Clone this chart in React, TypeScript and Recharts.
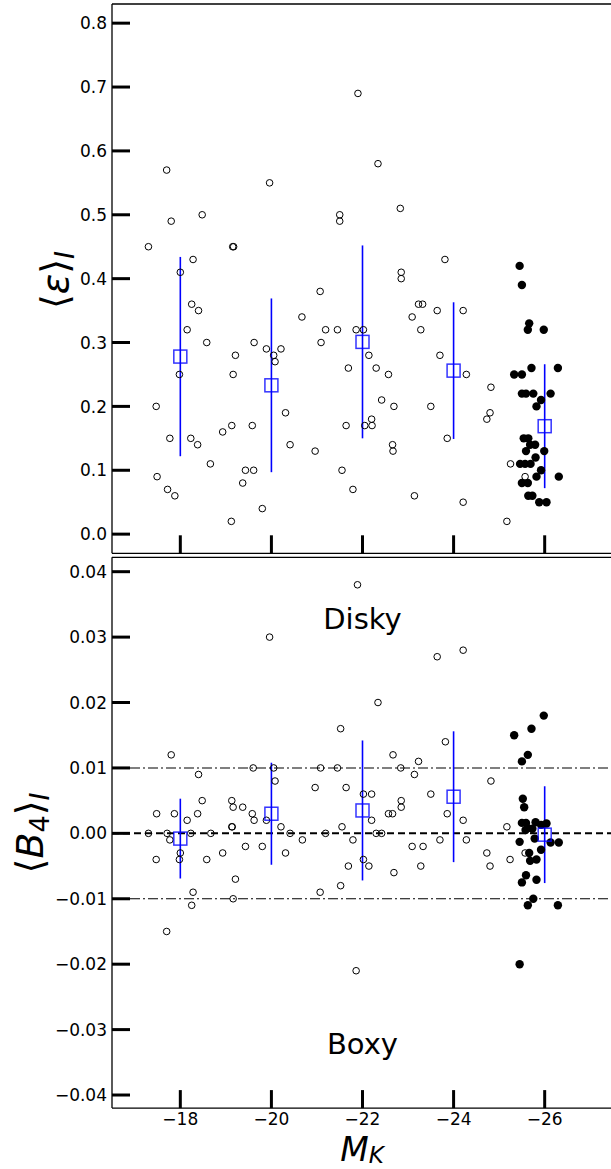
import React from "react";
import { ScatterChart, Scatter, XAxis, YAxis, ErrorBar, ReferenceLine } from "recharts";

const FONT = "DejaVu Sans, sans-serif";

// axis ticks
const xTicks = [-18, -20, -22, -24, -26];
const epsTicks = [0, 0.1, 0.2, 0.3, 0.4, 0.5, 0.6, 0.7, 0.8];
const b4Ticks = [-0.04, -0.03, -0.02, -0.01, 0, 0.01, 0.02, 0.03, 0.04];

// binned means (blue squares + error bars)
const binMK = [-18, -20, -22, -24, -26];
const epsMean = [0.278, 0.233, 0.301, 0.256, 0.169];
const epsErr = [0.156, 0.136, 0.151, 0.107, 0.097];
const b4Mean = [-0.0008, 0.003, 0.0035, 0.0056, -0.0002];
const b4Err = [0.0061, 0.0078, 0.0107, 0.01, 0.0074];

// ellipticity, fainter galaxies (open circles): [M_K, eps]
const epsOpen: [number, number][] = [
  [-17.3, 0.45], [-17.7, 0.57], [-17.8, 0.49], [-18.48, 0.5], [-19.15, 0.45], [-19.17, 0.45],
  [-18.28, 0.43], [-18.0, 0.41], [-19.96, 0.55], [-21.9, 0.69], [-21.5, 0.5], [-21.5, 0.49],
  [-22.34, 0.58], [-22.83, 0.51], [-23.81, 0.43], [-22.85, 0.41], [-22.85, 0.4], [-18.25, 0.36],
  [-18.4, 0.35], [-18.15, 0.32], [-18.58, 0.3], [-17.98, 0.25], [-17.47, 0.2], [-17.77, 0.15],
  [-18.23, 0.15], [-18.38, 0.14], [-18.66, 0.11], [-17.49, 0.09], [-17.72, 0.07], [-17.88, 0.06],
  [-18.93, 0.16], [-19.13, 0.17], [-19.16, 0.25], [-19.21, 0.28], [-19.62, 0.3], [-19.58, 0.17],
  [-19.43, 0.1], [-19.61, 0.1], [-19.37, 0.08], [-19.12, 0.02], [-19.8, 0.04], [-19.89, 0.29],
  [-20.05, 0.28], [-20.08, 0.27], [-20.21, 0.29], [-20.31, 0.19], [-20.41, 0.14], [-20.67, 0.34],
  [-20.96, 0.13], [-21.07, 0.38], [-21.19, 0.32], [-21.09, 0.3], [-21.45, 0.32], [-21.86, 0.32],
  [-21.69, 0.26], [-21.64, 0.17], [-21.55, 0.1], [-21.79, 0.07], [-22.02, 0.32], [-22.14, 0.28],
  [-22.3, 0.26], [-22.57, 0.25], [-22.42, 0.21], [-22.69, 0.2], [-22.2, 0.18], [-22.21, 0.17],
  [-22.05, 0.17], [-22.66, 0.14], [-22.67, 0.13], [-23.14, 0.06], [-23.09, 0.34], [-23.23, 0.36],
  [-23.32, 0.36], [-23.28, 0.32], [-23.64, 0.35], [-24.21, 0.35], [-23.7, 0.28], [-24.28, 0.25],
  [-23.5, 0.2], [-23.86, 0.15], [-24.21, 0.05], [-24.82, 0.23], [-24.8, 0.19], [-24.73, 0.18],
  [-25.17, 0.02], [-25.25, 0.11], [-25.57, 0.09],
];

// ellipticity, brightest galaxies (filled circles)
const epsFilled: [number, number][] = [
  [-25.45, 0.42], [-25.5, 0.39], [-25.66, 0.33], [-25.63, 0.32], [-25.98, 0.32], [-25.71, 0.26],
  [-26.29, 0.26], [-25.33, 0.25], [-25.5, 0.25], [-25.5, 0.22], [-25.59, 0.22], [-25.75, 0.22],
  [-26.13, 0.22], [-25.92, 0.21], [-25.82, 0.2], [-25.54, 0.15], [-25.64, 0.15], [-25.68, 0.14],
  [-25.79, 0.14], [-25.59, 0.13], [-25.99, 0.13], [-25.8, 0.12], [-25.46, 0.11], [-25.57, 0.11],
  [-25.69, 0.11], [-25.92, 0.1], [-25.82, 0.09], [-26.31, 0.09], [-25.5, 0.08], [-25.63, 0.08],
  [-25.64, 0.06], [-25.73, 0.06], [-25.88, 0.05], [-26.04, 0.05],
];

// B4, open circles
const b4Open: [number, number][] = [
  [-19.96, 0.03], [-21.89, 0.038], [-17.8, 0.012], [-18.4, 0.009], [-21.52, 0.016], [-19.6, 0.01],
  [-20.05, 0.01], [-20.08, 0.008], [-21.08, 0.01], [-21.45, 0.01], [-20.96, 0.007], [-21.64, 0.007],
  [-17.48, 0.003], [-17.87, 0.003], [-18.15, 0.002], [-18.38, 0.003], [-18.48, 0.005], [-19.13, 0.005],
  [-19.16, 0.004], [-19.13, 0.001], [-19.14, 0.001], [-19.37, 0.004], [-19.58, 0.003], [-19.62, 0.002],
  [-19.89, 0.002], [-20.21, 0.001], [-21.55, 0.001], [-17.3, 0], [-17.71, 0], [-18.23, 0],
  [-18.67, 0], [-20.41, 0], [-21.19, 0], [-17.77, -0.001], [-20.68, -0.001], [-21.79, -0.001],
  [-19.43, -0.002], [-19.8, -0.002], [-18.0, -0.003], [-18.93, -0.003], [-20.31, -0.003], [-17.47, -0.004],
  [-17.98, -0.004], [-18.58, -0.004], [-19.21, -0.007], [-18.28, -0.009], [-18.25, -0.011], [-19.16, -0.01],
  [-17.7, -0.015], [-21.07, -0.009], [-21.52, -0.008], [-21.69, -0.005], [-21.86, -0.021], [-23.64, 0.027],
  [-24.21, 0.028], [-22.34, 0.02], [-23.82, 0.014], [-22.67, 0.012], [-23.23, 0.011], [-22.84, 0.01],
  [-23.14, 0.009], [-24.82, 0.008], [-22.02, 0.006], [-22.2, 0.006], [-23.5, 0.006], [-22.85, 0.005],
  [-22.85, 0.004], [-22.2, 0.002], [-22.57, 0.003], [-22.66, 0.003], [-23.86, 0.003], [-24.21, 0.002],
  [-25.17, 0.001], [-22.3, 0], [-22.42, 0], [-23.7, -0.001], [-24.28, -0.001], [-23.09, -0.002],
  [-23.33, -0.002], [-24.73, -0.003], [-25.57, -0.003], [-22.02, -0.004], [-22.14, -0.005], [-22.69, -0.006],
  [-23.28, -0.005], [-24.8, -0.005], [-25.24, -0.004],
];

// B4, filled circles
const b4Filled: [number, number][] = [
  [-25.98, 0.018], [-25.71, 0.016], [-25.33, 0.015], [-25.63, 0.012], [-25.5, 0.011], [-25.52, 0.0053],
  [-25.55, 0.004], [-25.5, 0.0016], [-25.59, 0.0016], [-25.8, 0.0017], [-25.92, 0.0013], [-26.04, 0.0015],
  [-25.63, 0.0008], [-25.73, 0.0007], [-25.58, 0.0005], [-25.78, -0.0008], [-26.13, -0.0014], [-26.31, -0.0014],
  [-25.45, -0.0013], [-25.92, -0.0025], [-25.66, -0.003], [-25.68, -0.0042], [-25.82, -0.004], [-25.59, -0.0064],
  [-25.5, -0.0075], [-25.82, -0.0071], [-25.75, -0.01], [-25.63, -0.011], [-26.29, -0.011], [-25.45, -0.02],
];

const toPts = (arr: [number, number][]) => arr.map(([x, y]) => ({ x, y }));
const epsBins = binMK.map((x, i) => ({ x, y: epsMean[i], err: epsErr[i] }));
const b4Bins = binMK.map((x, i) => ({ x, y: b4Mean[i], err: b4Err[i] }));
const tags = [
  { x: -22, y: 0.0328, text: "Disky" },
  { x: -22, y: -0.0321, text: "Boxy" },
];

const fmt = (v: number, d: number) => {
  const s = Math.abs(v).toFixed(d);
  return v < -1e-9 ? "\u2212" + s : s;
};

const X_DOMAIN = [-27.5, -16.5];

const OpenDot = (p: any) => (
  <circle cx={p.cx} cy={p.cy} r={3.3} fill="none" stroke="#000" strokeWidth={1} />
);
const FullDot = (p: any) => <circle cx={p.cx} cy={p.cy} r={4.2} fill="#000" />;
const BlueSquare = (p: any) => (
  <rect x={p.cx - 6.5} y={p.cy - 6.5} width={13} height={13} fill="none" stroke="rgba(0,0,255,0.8)" strokeWidth={1.5} />
);
const TagText = (p: any) => (
  <text x={p.cx} y={p.cy} dy="0.36em" textAnchor="middle" fontSize={29} fontFamily={FONT} fill="#000">
    {p.payload.text}
  </text>
);

const yTick = (d: number) => (p: any) => (
  <g>
    <line x1={p.x} x2={p.x + 18} y1={p.y} y2={p.y} stroke="#000" strokeWidth={3} />
    <text x={p.x - 5} y={p.y} dy="0.36em" textAnchor="end" fontSize={17} fontFamily={FONT} fill="#000">
      {fmt(p.payload.value, d)}
    </text>
  </g>
);

const xTickBare = (p: any) => (
  <line x1={p.x} x2={p.x} y1={p.y} y2={p.y - 18} stroke="#000" strokeWidth={3} />
);

const xTickLabeled = (p: any) => (
  <g>
    <line x1={p.x} x2={p.x} y1={p.y} y2={p.y - 18} stroke="#000" strokeWidth={3} />
    <text x={p.x} y={p.y + 17} textAnchor="middle" fontSize={17} fontFamily={FONT} fill="#000">
      {fmt(p.payload.value, 0)}
    </text>
  </g>
);

const App = () => {
  return (
    <div style={{ position: "absolute", left: 0, top: 0, width: 611, height: 1169, overflow: "hidden", background: "#fff" }}>
      {/* top panel: ellipticity */}
      <div style={{ position: "absolute", left: 0, top: 0 }}>
        <ScatterChart width={640} height={556} margin={{ top: 3, right: 27, bottom: 1.7, left: 111 }}>
          <XAxis
            dataKey="x"
            type="number"
            domain={X_DOMAIN}
            reversed
            allowDataOverflow
            ticks={xTicks}
            interval={0}
            height={1}
            tickSize={0}
            tickMargin={0}
            tickLine={false}
            tick={xTickBare}
            axisLine={{ stroke: "#000", strokeWidth: 1.3 }}
          />
          <XAxis
            xAxisId="top"
            orientation="top"
            type="number"
            domain={X_DOMAIN}
            reversed
            height={1}
            tick={false}
            tickLine={false}
            axisLine={{ stroke: "#000", strokeWidth: 1.3 }}
          />
          <YAxis
            dataKey="y"
            type="number"
            domain={[-0.03, 0.83]}
            allowDataOverflow
            ticks={epsTicks}
            interval={0}
            width={1}
            tickSize={0}
            tickMargin={0}
            tickLine={false}
            tick={yTick(1)}
            axisLine={{ stroke: "#000", strokeWidth: 1.3 }}
            label={{
              content: () => (
                <text transform="translate(68,280) rotate(-90)" textAnchor="middle" fontSize={38} fontFamily={FONT} fill="#000">
                  {"\u27E8"}
                  <tspan fontStyle="italic">{"\u03B5"}</tspan>
                  {"\u27E9"}
                  <tspan fontSize={27} fontStyle="italic" dy={6}>I</tspan>
                </text>
              ),
            }}
          />
          <Scatter name="open" data={toPts(epsOpen)} shape={OpenDot} isAnimationActive={false} />
          <Scatter name="filled" data={toPts(epsFilled)} shape={FullDot} isAnimationActive={false} />
          <Scatter name="bins" data={epsBins} shape={BlueSquare} isAnimationActive={false}>
            <ErrorBar dataKey="err" direction="y" width={0} stroke="#0000ff" strokeWidth={1.6} />
          </Scatter>
        </ScatterChart>
      </div>

      {/* bottom panel: B4 */}
      <div style={{ position: "absolute", left: 0, top: 556 }}>
        <ScatterChart width={640} height={613} margin={{ top: 0.3, right: 27, bottom: 59.9, left: 111 }}>
          <XAxis
            dataKey="x"
            type="number"
            domain={X_DOMAIN}
            reversed
            allowDataOverflow
            ticks={xTicks}
            interval={0}
            height={1}
            tickSize={0}
            tickMargin={0}
            tickLine={false}
            tick={xTickLabeled}
            axisLine={{ stroke: "#000", strokeWidth: 1.3 }}
            label={{
              content: () => (
                <text x={362} y={605} textAnchor="middle" fontSize={33} fontFamily={FONT} fill="#000">
                  <tspan fontStyle="italic">M</tspan>
                  <tspan fontSize={23} fontStyle="italic" dy={2}>K</tspan>
                </text>
              ),
            }}
          />
          <XAxis
            xAxisId="top"
            orientation="top"
            type="number"
            domain={X_DOMAIN}
            reversed
            height={1}
            tick={false}
            tickLine={false}
            axisLine={{ stroke: "#000", strokeWidth: 1.3 }}
          />
          <YAxis
            dataKey="y"
            type="number"
            domain={[-0.042, 0.0422]}
            allowDataOverflow
            ticks={b4Ticks}
            interval={0}
            width={1}
            tickSize={0}
            tickMargin={0}
            tickLine={false}
            tick={yTick(2)}
            axisLine={{ stroke: "#000", strokeWidth: 1.3 }}
            label={{
              content: () => (
                <text transform="translate(43,277) rotate(-90)" textAnchor="middle" fontSize={38} fontFamily={FONT} fill="#000">
                  {"\u27E8"}
                  <tspan fontStyle="italic">B</tspan>
                  <tspan fontSize={27} dy={6}>4</tspan>
                  <tspan dy={-6}>{"\u27E9"}</tspan>
                  <tspan fontSize={27} fontStyle="italic" dy={6}>I</tspan>
                </text>
              ),
            }}
          />
          <ReferenceLine y={0} stroke="#000" strokeWidth={2} strokeDasharray="7 4" />
          <ReferenceLine y={0.01} stroke="#000" strokeWidth={1.1} strokeDasharray="10 3 2 3" />
          <ReferenceLine y={-0.01} stroke="#000" strokeWidth={1.1} strokeDasharray="10 3 2 3" />
          <Scatter name="open" data={toPts(b4Open)} shape={OpenDot} isAnimationActive={false} />
          <Scatter name="filled" data={toPts(b4Filled)} shape={FullDot} isAnimationActive={false} />
          <Scatter name="bins" data={b4Bins} shape={BlueSquare} isAnimationActive={false}>
            <ErrorBar dataKey="err" direction="y" width={0} stroke="#0000ff" strokeWidth={1.6} />
          </Scatter>
          <Scatter name="tags" data={tags} shape={TagText} isAnimationActive={false} />
        </ScatterChart>
      </div>
    </div>
  );
};

export default App;
